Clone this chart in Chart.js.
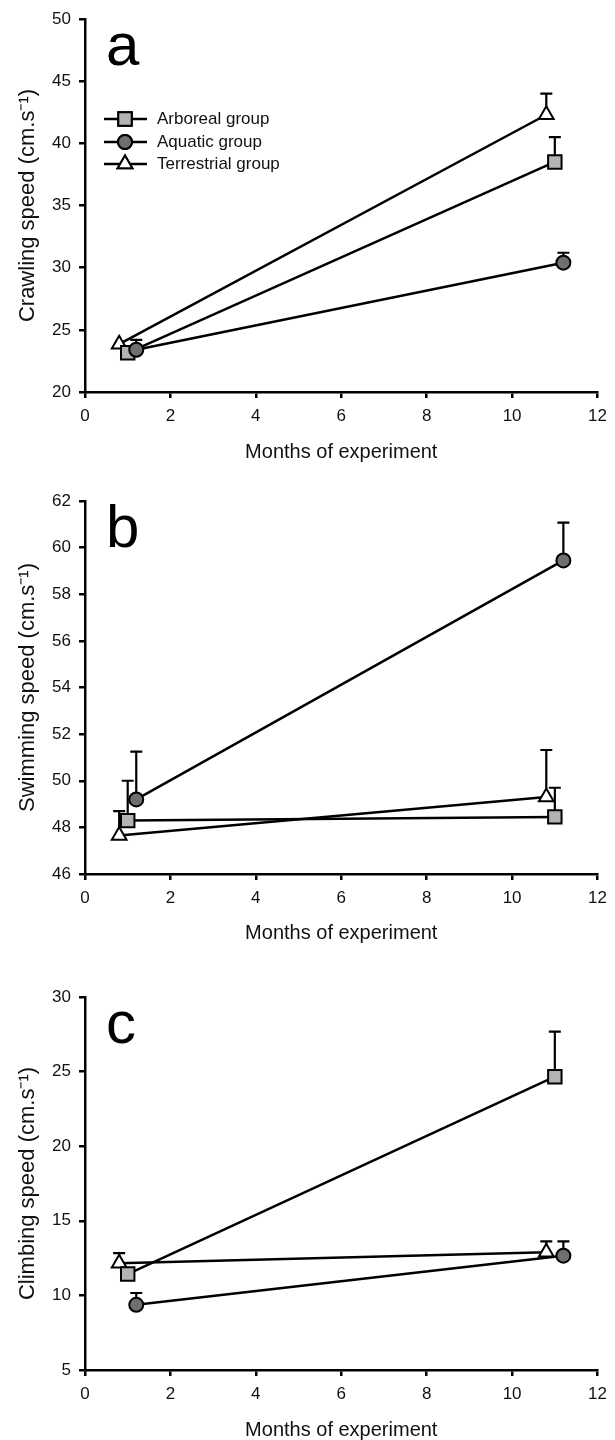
<!DOCTYPE html>
<html>
<head>
<meta charset="utf-8">
<title>Locomotor performance over the experiment</title>
<script src="https://cdn.jsdelivr.net/npm/chart.js"></script>
<style>
  html, body { margin: 0; padding: 0; background: #fff; overflow: hidden; }
  canvas { position: absolute; left: 0; }
</style>
</head>
<body>
<canvas id="crawl" width="615" height="480" style="top:0px"></canvas>
<canvas id="swim" width="615" height="480" style="top:482px"></canvas>
<canvas id="climb" width="615" height="462" style="top:978px"></canvas>
<script>
// groups and the month each group was measured (offset a little so bars don't overlap)
const groups = ["Arboreal group", "Aquatic group", "Terrestrial group"];
const arborealMonths = [1.0, 11.0];
const aquaticMonths = [1.2, 11.2];
const terrestrialMonths = [0.8, 10.8];

// a - crawling speed (mean and top of the error bar), cm/s
const crawlArboreal = [23.15, 38.5];
const crawlArborealTop = [null, 40.5];
const crawlAquatic = [23.4, 30.4];
const crawlAquaticTop = [24.2, 31.2];
const crawlTerrestrial = [23.85, 42.3];
const crawlTerrestrialTop = [null, 44.0];

// b - swimming speed
const swimArboreal = [48.29, 48.45];
const swimArborealTop = [50.0, 49.7];
const swimAquatic = [49.2, 59.45];
const swimAquaticTop = [51.25, 61.07];
const swimTerrestrial = [47.65, 49.3];
const swimTerrestrialTop = [48.7, 51.32];

// c - climbing speed
const climbArboreal = [11.43, 24.66];
const climbArborealTop = [null, 27.68];
const climbAquatic = [9.37, 12.66];
const climbAquaticTop = [10.16, 13.62];
const climbTerrestrial = [12.15, 12.9];
const climbTerrestrialTop = [12.84, 13.62];

const FONT = "'Liberation Sans', Arial, Helvetica, sans-serif";
const PLOT_TOP = 19;
const PLOT_BOTTOM = 392;

const markerStyle = {
  "Arboreal group": { pointStyle: "rect", radius: 9.5, fill: "#b3b3b3" },
  "Aquatic group": { pointStyle: "circle", radius: 7, fill: "#6f6f6f" },
  "Terrestrial group": { pointStyle: "triangle", radius: 8.5, fill: "#ffffff" },
};

// upper error bars with a cap, drawn under the markers
const errorBars = {
  id: "errorBars",
  beforeDatasetsDraw(chart) {
    const { ctx, scales: { x, y } } = chart;
    ctx.save();
    ctx.strokeStyle = "#000";
    ctx.lineWidth = 2.2;
    chart.data.datasets.forEach((ds) => {
      (ds.errTop || []).forEach((top, i) => {
        if (top == null) return;
        const px = x.getPixelForValue(ds.data[i].x);
        const py = y.getPixelForValue(ds.data[i].y);
        const pt = y.getPixelForValue(top);
        ctx.beginPath();
        ctx.moveTo(px, py);
        ctx.lineTo(px, pt);
        ctx.moveTo(px - 6, pt);
        ctx.lineTo(px + 6, pt);
        ctx.stroke();
      });
    });
    ctx.restore();
  },
};

// panel letter, plus the line+marker legend on the first panel
const panelExtras = {
  id: "panelExtras",
  afterDraw(chart, args, opts) {
    const ctx = chart.ctx;
    ctx.save();
    ctx.fillStyle = "#000";
    ctx.font = "60px " + FONT;
    ctx.textBaseline = "alphabetic";
    ctx.fillText(opts.letter, 106, 65);

    if (opts.showLegend) {
      const rows = [119, 142, 164];
      ctx.font = "17px " + FONT;
      ctx.textBaseline = "middle";
      groups.forEach((g, i) => {
        const st = markerStyle[g];
        const yy = rows[i];
        ctx.strokeStyle = "#000";
        ctx.lineWidth = 2.5;
        ctx.beginPath();
        ctx.moveTo(104, yy);
        ctx.lineTo(147, yy);
        ctx.stroke();
        ctx.fillStyle = st.fill;
        ctx.lineWidth = 2;
        Chart.helpers.drawPoint(ctx, { pointStyle: st.pointStyle, radius: st.radius, borderWidth: 2, rotation: 0 }, 125, yy);
        ctx.fill();
        ctx.stroke();
        ctx.fillStyle = "#111";
        ctx.fillText(g, 157, yy);
      });
    }
    ctx.restore();
  },
};

function makePanel(id, letter, yTitle, yMin, yMax, yStep, series, height, xTitleGap, showLegend) {
  const datasets = series.map((s) => {
    const st = markerStyle[s.group];
    return {
      label: s.group,
      data: s.months.map((m, i) => ({ x: m, y: s.values[i] })),
      errTop: s.tops,
      showLine: true,
      borderColor: "#000",
      borderWidth: 2.5,
      pointStyle: st.pointStyle,
      pointRadius: st.radius,
      pointBackgroundColor: st.fill,
      pointBorderColor: "#000",
      pointBorderWidth: 2,
      clip: false,
    };
  });

  const axisLine = { display: true, color: "#000", width: 2.5 };
  const tickMarks = { display: true, drawOnChartArea: false, drawTicks: true, tickLength: 6, color: "#000", lineWidth: 2.5 };

  return new Chart(document.getElementById(id), {
    type: "scatter",
    data: { datasets },
    options: {
      responsive: false,
      animation: false,
      events: [],
      layout: { padding: { top: PLOT_TOP, right: 11, left: 0, bottom: 0 } },
      plugins: {
        legend: { display: false },
        tooltip: { enabled: false },
        panelExtras: { letter, showLegend },
      },
      scales: {
        x: {
          type: "linear",
          min: 0,
          max: 12,
          ticks: { stepSize: 2, color: "#111", padding: 8, font: { family: FONT, size: 17 } },
          grid: tickMarks,
          border: axisLine,
          title: {
            display: true,
            text: "Months of experiment",
            color: "#111",
            font: { family: FONT, size: 20 },
            padding: { top: 0, bottom: xTitleGap },
          },
          afterFit: (axis) => { axis.height = height - PLOT_BOTTOM; },
        },
        y: {
          type: "linear",
          min: yMin,
          max: yMax,
          ticks: { stepSize: yStep, color: "#111", padding: 8, font: { family: FONT, size: 17 } },
          grid: tickMarks,
          border: axisLine,
          title: {
            display: true,
            text: yTitle,
            color: "#111",
            font: { family: FONT, size: 22 },
            padding: { top: 15, bottom: 0 },
          },
          afterFit: (axis) => { axis.width = 85; },
        },
      },
    },
    plugins: [errorBars, panelExtras],
  });
}

// dataset 0 ends up on top, so aquatic goes first
makePanel("crawl", "a", "Crawling speed (cm.s\u207B\u00B9)", 20, 50, 5, [
  { group: "Aquatic group", months: aquaticMonths, values: crawlAquatic, tops: crawlAquaticTop },
  { group: "Arboreal group", months: arborealMonths, values: crawlArboreal, tops: crawlArborealTop },
  { group: "Terrestrial group", months: terrestrialMonths, values: crawlTerrestrial, tops: crawlTerrestrialTop },
], 480, 16, true);

makePanel("swim", "b", "Swimming speed (cm.s\u207B\u00B9)", 46, 62, 2, [
  { group: "Aquatic group", months: aquaticMonths, values: swimAquatic, tops: swimAquaticTop },
  { group: "Arboreal group", months: arborealMonths, values: swimArboreal, tops: swimArborealTop },
  { group: "Terrestrial group", months: terrestrialMonths, values: swimTerrestrial, tops: swimTerrestrialTop },
], 480, 17, false);

makePanel("climb", "c", "Climbing speed (cm.s\u207B\u00B9)", 5, 30, 5, [
  { group: "Aquatic group", months: aquaticMonths, values: climbAquatic, tops: climbAquaticTop },
  { group: "Arboreal group", months: arborealMonths, values: climbArboreal, tops: climbArborealTop },
  { group: "Terrestrial group", months: terrestrialMonths, values: climbTerrestrial, tops: climbTerrestrialTop },
], 462, -2, false);
</script>
</body>
</html>
